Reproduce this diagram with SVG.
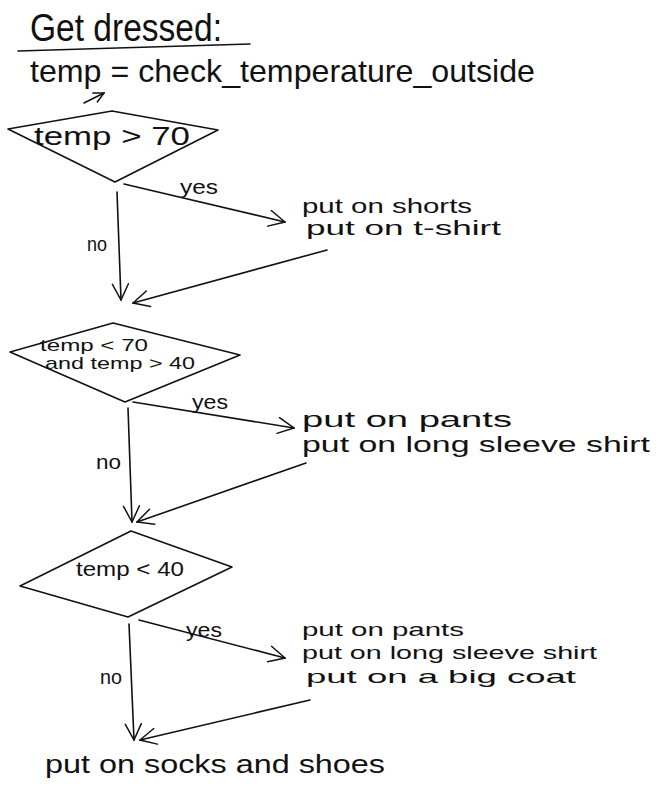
<svg xmlns="http://www.w3.org/2000/svg" width="660" height="796" viewBox="0 0 660 796">
<defs>
<style>
.t{font-family:"Liberation Sans","DejaVu Sans",sans-serif;fill:#111;}
.s{fill:none;stroke:#111;stroke-width:1.6;stroke-linecap:round;stroke-linejoin:round;}
</style>
<marker id="ah" viewBox="0 0 12 12" refX="11" refY="6" markerWidth="12" markerHeight="12" markerUnits="userSpaceOnUse" orient="auto">
<path d="M1,1 L11,6 L1,11" fill="none" stroke="#111" stroke-width="1.5" stroke-linecap="round"/>
</marker>
<marker id="ahb" viewBox="0 0 18 18" refX="17" refY="9" markerWidth="18" markerHeight="18" markerUnits="userSpaceOnUse" orient="auto">
<path d="M1,1 L17,9 L1,17" fill="none" stroke="#111" stroke-width="1.5" stroke-linecap="round"/>
</marker>
</defs>
<rect width="660" height="796" fill="#fff"/>
<g id="title">
<text class="t" x="30" y="41" font-size="38" textLength="192" lengthAdjust="spacingAndGlyphs">Get dressed:</text>
<path class="s" d="M18,51 L250,44"/>
</g>
<g id="assign">
<text class="t" x="30" y="82" font-size="32" textLength="505" lengthAdjust="spacingAndGlyphs">temp = check_temperature_outside</text>
</g>
<g id="d1">
<path class="s" d="M112,111 L218,130 L115,182 L8,129 Z"/>
<text class="t" x="34" y="145" font-size="26" textLength="156" lengthAdjust="spacingAndGlyphs">temp &gt; 70</text>
</g>
<g id="a1">
<text class="t" x="302" y="213" font-size="21" textLength="170" lengthAdjust="spacingAndGlyphs">put on shorts</text>
<text class="t" x="306" y="235" font-size="21" textLength="195" lengthAdjust="spacingAndGlyphs">put on t-shirt</text>
</g>
<g id="d2">
<path class="s" d="M113,323 L240,355 L125,402 L10,352 Z"/>
<text class="t" x="40" y="351" font-size="17" textLength="108" lengthAdjust="spacingAndGlyphs">temp &lt; 70</text>
<text class="t" x="45" y="369" font-size="17" textLength="150" lengthAdjust="spacingAndGlyphs">and temp &gt; 40</text>
</g>
<g id="a2">
<text class="t" x="302" y="427" font-size="22" textLength="210" lengthAdjust="spacingAndGlyphs">put on pants</text>
<text class="t" x="302" y="452" font-size="22" textLength="348" lengthAdjust="spacingAndGlyphs">put on long sleeve shirt</text>
</g>
<g id="d3">
<path class="s" d="M131,531 L232,567 L128,617 L20,586 Z"/>
<text class="t" x="76" y="576" font-size="20" textLength="108" lengthAdjust="spacingAndGlyphs">temp &lt; 40</text>
</g>
<g id="a3">
<text class="t" x="302" y="636" font-size="19" textLength="162" lengthAdjust="spacingAndGlyphs">put on pants</text>
<text class="t" x="302" y="659" font-size="19" textLength="295" lengthAdjust="spacingAndGlyphs">put on long sleeve shirt</text>
<text class="t" x="306" y="683" font-size="19" textLength="270" lengthAdjust="spacingAndGlyphs">put on a big coat</text>
</g>
<g id="end">
<text class="t" x="45" y="773" font-size="26" textLength="340" lengthAdjust="spacingAndGlyphs">put on socks and shoes</text>
</g>
<g id="connectors">
<path class="s" d="M84,103 L104,93" marker-end="url(#ah)"/>
<path class="s" d="M124,184 L285,222" marker-end="url(#ahb)"/>
<text class="t" x="180" y="194" font-size="21" textLength="38" lengthAdjust="spacingAndGlyphs">yes</text>
<path class="s" d="M117,192 L121,300" marker-end="url(#ahb)"/>
<text class="t" x="87" y="251" font-size="21" textLength="20" lengthAdjust="spacingAndGlyphs">no</text>
<path class="s" d="M133,402 L294,428" marker-end="url(#ahb)"/>
<text class="t" x="192" y="409" font-size="21" textLength="36" lengthAdjust="spacingAndGlyphs">yes</text>
<path class="s" d="M128,408 L132,522" marker-end="url(#ahb)"/>
<text class="t" x="96" y="469" font-size="21" textLength="25" lengthAdjust="spacingAndGlyphs">no</text>
<path class="s" d="M139,620 L285,658" marker-end="url(#ahb)"/>
<text class="t" x="186" y="637" font-size="21" textLength="36" lengthAdjust="spacingAndGlyphs">yes</text>
<path class="s" d="M129,624 L134,740" marker-end="url(#ahb)"/>
<text class="t" x="100" y="684" font-size="21" textLength="22" lengthAdjust="spacingAndGlyphs">no</text>
<path class="s" d="M327,250 L133,303" marker-end="url(#ahb)"/>
<path class="s" d="M306,463 L137,522" marker-end="url(#ahb)"/>
<path class="s" d="M310,700 L140,740" marker-end="url(#ahb)"/>
</g>
</svg>
